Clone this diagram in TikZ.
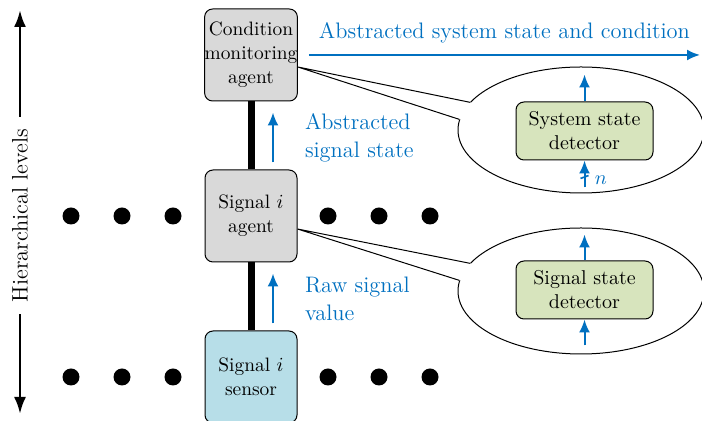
\documentclass[tikz,border=0pt]{standalone}
\usetikzlibrary{arrows.meta,shapes.geometric,calc}

\definecolor{agentgray}{RGB}{217,217,217}
\definecolor{sensorblue}{RGB}{183,222,232}
\definecolor{detgreen}{RGB}{215,228,189}
\definecolor{flowblue}{RGB}{0,112,192}

\tikzset{
  agentbox/.style={draw, line width=0.5pt, rounded corners=4pt, fill=agentgray,
    minimum width=46pt, minimum height=46pt, inner sep=0pt, align=center,
    font=\fontsize{9.7}{12}\selectfont},
  detectorbox/.style={draw, line width=0.5pt, rounded corners=4pt, fill=detgreen,
    minimum width=68.5pt, minimum height=29pt, inner sep=0pt, align=center,
    font=\fontsize{10}{12}\selectfont},
  bigdot/.style={circle, fill=black, inner sep=0pt, minimum size=8.5pt},
  bus/.style={line width=3.5pt},
  flow/.style={draw=flowblue, line width=1pt, -{Latex[length=6.5pt,width=5.5pt]}},
  flowlabel/.style={text=flowblue, inner sep=0pt, align=left,
    font=\fontsize{11.2}{14}\selectfont},
  axisarrow/.style={line width=1.4pt, -{Latex[length=8.5pt,width=6pt]}},
  bubble/.style={ellipse, draw, line width=0.5pt, fill=white, inner sep=0pt,
    minimum width=123pt, minimum height=63pt},
  pointerline/.style={line width=0.5pt},
}

% speech-bubble pointer: #1 = bubble node, #2 = tip coordinate
\newcommand{\bubblepointer}[2]{%
  \fill[white] (#2) -- (#1.166) -- ($(#1.166)!1.5pt!(#1.center)$)
    -- ($(#1.175)!1.5pt!(#1.center)$) -- (#1.175) -- cycle;
  \draw[pointerline] (#1.166) -- (#2) -- (#1.175);
}

\begin{document}
\begin{tikzpicture}[x=0.5pt,y=-0.5pt]
  \useasboundingbox (0,0) rectangle (702,421);

  % hierarchy axis
  \node[rotate=90, inner sep=6pt, font=\fontsize{11.2}{13}\selectfont] (hl) at (20,215.5) {Hierarchical levels};
  \coordinate (axtop) at (20,10);
  \coordinate (axbot) at (20,414);
  \draw[axisarrow] (hl.east) -- (axtop);
  \draw[axisarrow] (hl.west) -- (axbot);

  % agents and sensor
  \node[agentbox] (cma) at (251,55) {Condition\\monitoring\\agent};
  \node[agentbox] (sia) at (251,216) {Signal $i$\\agent};
  \node[agentbox, fill=sensorblue] (sis) at (251,377) {Signal $i$\\sensor};

  \draw[bus] (cma.south) -- (sia.north);
  \draw[bus] (sia.south) -- (sis.north);

  % other signals on the same levels
  \foreach \n/\px in {a/71,b/122,c/173,d/328,e/379,f/430}{
    \node[bigdot] (u\n) at (\px,216) {};
    \node[bigdot] (l\n) at (\px,377) {};
  }

  % information flow
  \draw[flow] ([xshift=11pt,yshift=3.5pt]sia.north) -- ([xshift=11pt,yshift=-5.5pt]cma.south)
    node[flowlabel, midway, anchor=west, xshift=15.5pt] {Abstracted\\signal state};
  \draw[flow] ([xshift=11pt,yshift=3.5pt]sis.north) -- ([xshift=11pt,yshift=-5.5pt]sia.south)
    node[flowlabel, midway, anchor=west, xshift=15.5pt] {Raw signal\\value};
  \coordinate (outend) at (700,55);
  \draw[flow] ([xshift=5.5pt]cma.east) -- (outend)
    node[flowlabel, midway, anchor=south, yshift=5.5pt] {Abstracted system state and condition};

  % detail bubbles
  \coordinate (tip1) at ($(cma.east)+(0,12)$);
  \coordinate (tip2) at ($(sia.east)+(0,13)$);
  \node[bubble] (bub1) at (581,130) {};
  \node[bubble] (bub2) at (581,291) {};
  \bubblepointer{bub1}{tip1}
  \bubblepointer{bub2}{tip2}

  \node[detectorbox] (det1) at (584.5,131) {System state\\detector};
  \node[detectorbox] (det2) at (584.5,290) {Signal state\\detector};

  \draw[flow] (det1.north) -- ([yshift=13.5pt]det1.north);
  \coordinate (nin) at ([yshift=-13.5pt]det1.south);
  \draw[flow] (nin) -- (det1.south);
  \draw[flowblue, line width=0.8pt] ($(nin)+(-4,-9)$) -- ($(nin)+(4,-12)$);
  \node[text=flowblue, inner sep=0pt, font=\fontsize{10}{12}\selectfont, anchor=west] (nlab) at ($(nin)+(10,-7)$) {$n$};

  \draw[flow] (det2.north) -- ([yshift=13pt]det2.north);
  \coordinate (sin) at ([yshift=-13pt]det2.south);
  \draw[flow] (sin) -- (det2.south);
\end{tikzpicture}
\end{document}
